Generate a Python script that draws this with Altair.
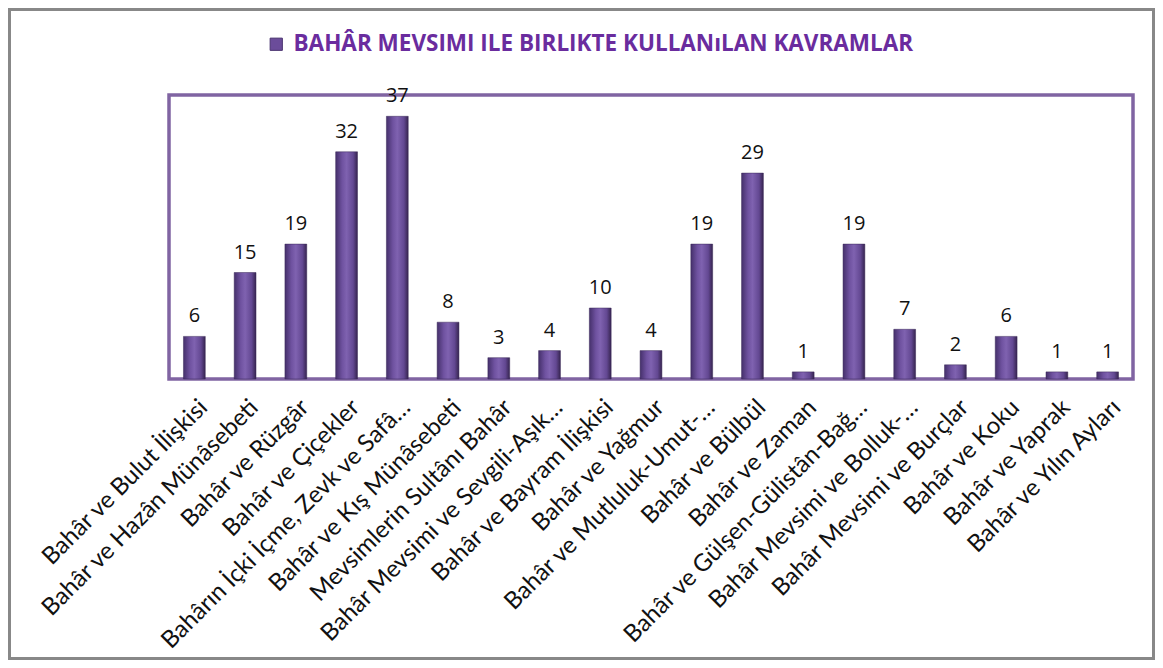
import altair as alt
import pandas as pd

categories = [
    "Bahâr ve Bulut İlişkisi",
    "Bahâr ve Hazân Münâsebeti",
    "Bahâr ve Rüzgâr",
    "Bahâr ve Çiçekler",
    "Bahârın İçki İçme, Zevk ve Safâ…",
    "Bahâr ve Kış Münâsebeti",
    "Mevsimlerin Sultânı Bahâr",
    "Bahâr Mevsimi ve Sevgili-Aşık…",
    "Bahâr ve Bayram İlişkisi",
    "Bahâr ve Yağmur",
    "Bahâr ve Mutluluk-Umut-…",
    "Bahâr ve Bülbül",
    "Bahâr ve Zaman",
    "Bahâr ve Gülşen-Gülistân-Bağ…",
    "Bahâr  Mevsimi ve Bolluk-…",
    "Bahâr Mevsimi ve Burçlar",
    "Bahâr ve Koku",
    "Bahâr ve Yaprak",
    "Bahâr ve Yılın Ayları",
]
values = [6, 15, 19, 32, 37, 8, 3, 4, 10, 4, 19, 29, 1, 19, 7, 2, 6, 1, 1]
series_name = "BAHÂR MEVSIMI ILE BIRLIKTE KULLANıLAN KAVRAMLAR"

df = pd.DataFrame({"kavram": categories, "sayi": values, "seri": [series_name] * len(values)})

W, H = 964, 284
PAD_L, PAD_T = 161, 87
TOTAL_W, TOTAL_H = 1147, 652

bar_grad = alt.Gradient(
    gradient="linear",
    stops=[
        alt.GradientStop(color="#45306b", offset=0),
        alt.GradientStop(color="#6f52a0", offset=0.3),
        alt.GradientStop(color="#7f62b0", offset=0.5),
        alt.GradientStop(color="#634892", offset=0.8),
        alt.GradientStop(color="#36244f", offset=1),
    ],
    x1=0, x2=1, y1=0, y2=0,
)

x_enc = alt.X(
    "kavram:N",
    sort=None,
    title=None,
    scale=alt.Scale(paddingInner=0.57, paddingOuter=0.285),
    axis=alt.Axis(
        labelAngle=315,
        labelAlign="right",
        labelBaseline="top",
        labelFont="Lato",
        labelFontSize=24,
        labelColor="#111111",
        labelLimit=0,
        labelPadding=16,
        labelOffset=1,
        ticks=False,
        domain=False,
        labelOverlap=False,
    ),
)
y_enc = alt.Y("sayi:Q", scale=alt.Scale(domain=[0, 40]), axis=None)

base = alt.Chart(df)

bars = base.mark_bar(fill=bar_grad, stroke="#3a2858", strokeWidth=0.5).encode(x=x_enc, y=y_enc)

labels = base.mark_text(
    baseline="bottom", dy=-10, font="Open Sans", fontSize=20, color="#111111"
).encode(x=x_enc, y=y_enc, text="sayi:Q")

legend_layer = base.mark_square(opacity=0, size=144).encode(
    x=x_enc,
    y=y_enc,
    color=alt.Color(
        "seri:N",
        scale=alt.Scale(range=["#6b4c9a"]),
        legend=alt.Legend(
            title=None,
            orient="none",
            legendX=96,
            legendY=-62,
            symbolType="square",
            symbolSize=150,
            symbolOpacity=1,
            symbolStrokeColor="#4a3370",
            symbolStrokeWidth=1,
            labelFont="Open Sans",
            labelFontSize=22.5,
            labelFontWeight="bold",
            labelColor="#6a2c9e",
            labelLimit=0,
            labelOffset=6,
            padding=0,
        ),
    ),
)

frame = alt.Chart(pd.DataFrame({"a": [0]})).mark_rect(
    fillOpacity=0, stroke="#888888", strokeWidth=3
).encode(
    x=alt.value(-PAD_L + 1.5),
    x2=alt.value(TOTAL_W - PAD_L - 1.5),
    y=alt.value(-PAD_T + 1.5),
    y2=alt.value(TOTAL_H - PAD_T - 1.5),
)

chart = (
    alt.layer(frame, bars, labels, legend_layer)
    .properties(
        width=W,
        height=H,
        autosize=alt.AutoSizeParams(type="none"),
        padding={"left": PAD_L, "top": PAD_T, "right": TOTAL_W - PAD_L - W, "bottom": TOTAL_H - PAD_T - H},
    )
    .configure(background="white", view=alt.ViewConfig(stroke="#8064a2", strokeWidth=3.5))
)

chart.save("out.html", embed_options={"renderer": "svg", "actions": False})
